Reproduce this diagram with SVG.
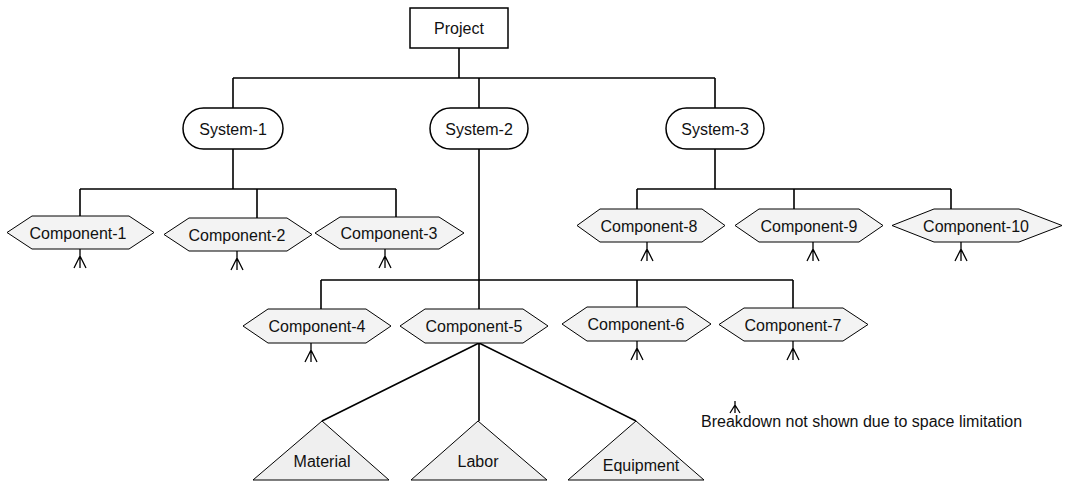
<svg xmlns="http://www.w3.org/2000/svg" xmlns:xlink="http://www.w3.org/1999/xlink" width="1066" height="482" viewBox="0 0 1066 482">
<style>
text{font-family:"Liberation Sans",Arial,sans-serif;font-size:16px;fill:#111;text-anchor:middle}
.box{fill:#fff;stroke:#000;stroke-width:1.5}
.hex{fill:#f3f3f3;stroke:#000;stroke-width:1}
.tri{fill:#efefef;stroke:#000;stroke-width:1}
.con path{fill:none;stroke:#000;stroke-width:1.6}
.crow{fill:none;stroke:#000;stroke-width:1.3}
</style>
<defs>
<path id="crow" class="crow" d="M0,0 V19 M0,7 L-6,19 M0,7 L6,19"/>
</defs>
<rect width="1066" height="482" fill="#fff"/>
<g id="connectors" class="con">
<path d="M459,48 V78 M233,78 H715 M233,78 V108 M479,78 V108 M715,78 V108"/>
<path d="M233,149 V189 M80,189 H396 M80,189 V216 M257,189 V218 M396,189 V217"/>
<path d="M479,149 V309 M321,280 H793 M321,280 V309 M637,280 V307 M793,280 V308"/>
<path d="M715,149 V189 M637,189 H951 M637,189 V209 M794,189 V209 M951,189 V209"/>
<path d="M479,343 L322,421 M479,343 V421 M479,343 L636,421"/>
</g>
<g id="project"><rect class="box" x="410" y="8" width="98" height="40"/><text x="459" y="34">Project</text></g>
<g id="system-1"><rect class="box" x="183" y="108" width="100" height="41" rx="20.5"/><text x="233" y="135">System-1</text></g>
<g id="system-2"><rect class="box" x="430" y="108" width="98" height="41" rx="20.5"/><text x="479" y="135">System-2</text></g>
<g id="system-3"><rect class="box" x="666" y="108" width="98" height="41" rx="20.5"/><text x="715" y="135">System-3</text></g>
<g id="component-1"><polygon class="hex" points="7,232.5 32,216 129,216 154,232.5 129,249 32,249"/><text x="78" y="238.5">Component-1</text><use xlink:href="#crow" x="80" y="249"/></g>
<g id="component-2"><polygon class="hex" points="164,234.5 189,218 287,218 312,234.5 287,251 189,251"/><text x="237" y="240.5">Component-2</text><use xlink:href="#crow" x="237" y="251"/></g>
<g id="component-3"><polygon class="hex" points="315,233 340,217 439,217 464,233 439,249 340,249"/><text x="389" y="239">Component-3</text><use xlink:href="#crow" x="385" y="249"/></g>
<g id="component-8"><polygon class="hex" points="577,225.5 600,209 702,209 725,225.5 702,242 600,242"/><text x="649" y="231.5">Component-8</text><use xlink:href="#crow" x="647" y="242"/></g>
<g id="component-9"><polygon class="hex" points="735,225.5 759,209 859,209 883,225.5 859,242 759,242"/><text x="809" y="231.5">Component-9</text><use xlink:href="#crow" x="813" y="242"/></g>
<g id="component-10"><polygon class="hex" points="892,225.5 934,209 1019,209 1062,225.5 1019,242 934,242"/><text x="976" y="231.5">Component-10</text><use xlink:href="#crow" x="961" y="242"/></g>
<g id="component-4"><polygon class="hex" points="243,326 268,309 366,309 391,326 366,343 268,343"/><text x="317" y="332">Component-4</text><use xlink:href="#crow" x="311" y="343"/></g>
<g id="component-5"><polygon class="hex" points="400,326 425,309 523,309 548,326 523,343 425,343"/><text x="474" y="332">Component-5</text></g>
<g id="component-6"><polygon class="hex" points="562,324 587,307 686,307 711,324 686,341 587,341"/><text x="636" y="330">Component-6</text><use xlink:href="#crow" x="637" y="341"/></g>
<g id="component-7"><polygon class="hex" points="719,324.5 744,308 843,308 868,324.5 843,341 744,341"/><text x="793" y="330.5">Component-7</text><use xlink:href="#crow" x="793" y="341"/></g>
<g id="material"><polygon class="tri" points="322,421 389,480 253,480"/><text x="322" y="467">Material</text></g>
<g id="labor"><polygon class="tri" points="478,421 547,480 411,480"/><text x="478" y="467">Labor</text></g>
<g id="equipment"><polygon class="tri" points="636,421 704,480 568,480"/><text x="641" y="471">Equipment</text></g>
<g id="legend">
<path class="crow" d="M735,401 V413 M735,405 L730,413 M735,405 L740,413"/>
<text x="701" y="427" style="text-anchor:start">Breakdown not shown due to space limitation</text>
</g>
</svg>
